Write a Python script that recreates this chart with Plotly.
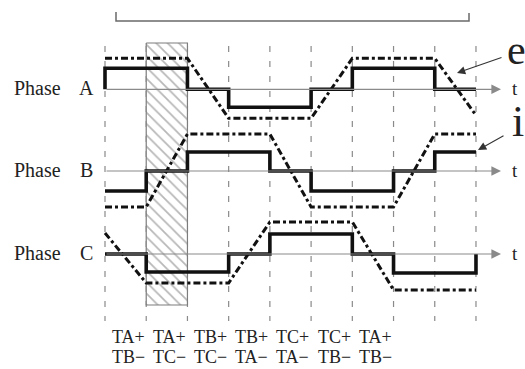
import plotly.graph_objects as go

# ---------------- data ----------------
# commutation instants (dashed lines)
t = [0, 1, 2, 3, 4, 5, 6, 7, 8, 9]

# phase currents, one level per interval (arbitrary units)
cur_a = [21, 21, 0, -18, -18, 0, 21, 21, 0]
cur_b = [-20, 0, 19, 19, 0, -20, -20, 0, 19]
cur_c = [0, -18, -18, 0, 20, 20, 0, -19, -19]

# back-EMF values at each commutation instant (trapezoids)
emf_a = [31, 31, 31, -29, -29, -29, 31, 31, 31, -26]
emf_b = [-36, -36, 37, 37, 37, -36, -36, -36, 37, 37]
emf_c = [21, -29, -29, -29, 32, 32, 32, -36, -36, -36]

# switch pairs conducting in each interval
sw_top = ["TA+", "TA+", "TB+", "TB+", "TC+", "TC+", "TA+"]
sw_bot = ["TB−", "TC−", "TC−", "TA−", "TA−", "TB−", "TB−"]

phase_names = ["A", "B", "C"]
hatched_interval = 1

# ---------------- layout helpers ----------------
W, H = 525, 369
X0_PX, DX_PX = 105.0, 41.22


def px(xp):
    return (xp - X0_PX) / DX_PX


def py(yp):
    return -yp


bases = [py(89.3), py(171), py(254)]
SERIF = "Liberation Serif, Times New Roman, serif"
INK = "#111111"
GRAY = "#8a8a8a"
TXT = "#222222"

fig = go.Figure()

# hatched interval
hx0, hx1 = t[hatched_interval], t[hatched_interval + 1]
fig.add_trace(go.Scatter(
    x=[hx0, hx1, hx1, hx0, hx0],
    y=[py(43), py(43), py(305), py(305), py(43)],
    mode="lines", fill="toself", fillcolor="white",
    fillpattern=dict(shape="\\", fgcolor="#6f6f6f", bgcolor="white",
                     size=8, solidity=0.22),
    line=dict(color="#7c7c7c", width=1.2),
    hoverinfo="skip", showlegend=False))


def step_xy(levels, base, start_zero=False, end_zero=False):
    xs = list(t[:len(levels) + 1])
    ys = [base + v for v in levels] + [base + levels[-1]]
    if start_zero:
        xs = [t[0]] + xs
        ys = [base] + ys
    if end_zero:
        xs = xs + [xs[-1]]
        ys = ys + [base]
    return xs, ys


currents = [cur_a, cur_b, cur_c]
emfs = [emf_a, emf_b, emf_c]
flags = [(True, False), (False, False), (False, True)]

for k in range(3):
    base = bases[k]
    fig.add_trace(go.Scatter(
        x=t, y=[base + v for v in emfs[k]], mode="lines",
        line=dict(color=INK, width=3, dash="7px,3px,3px,3px"),
        hoverinfo="skip", showlegend=False))
    xs, ys = step_xy(currents[k], base, *flags[k])
    fig.add_trace(go.Scatter(
        x=xs, y=ys, mode="lines", line_shape="hv",
        line=dict(color=INK, width=3.6),
        hoverinfo="skip", showlegend=False))

shapes = []
# dashed commutation lines
for xv in t:
    shapes.append(dict(type="line", xref="x", yref="y", x0=xv, x1=xv,
                       y0=py(46), y1=py(321), layer="below",
                       line=dict(color=GRAY, width=1.2, dash="6px,9px")))
# top bracket
shapes.append(dict(
    type="path", xref="x", yref="y",
    path=f"M {px(116)},{py(12)} L {px(116)},{py(21)} L {px(469)},{py(21)} L {px(469)},{py(13)}",
    line=dict(color="#6a6a6a", width=1.5)))

annotations = []
for k in range(3):
    base = bases[k]
    # time axis with arrow
    annotations.append(dict(
        x=px(501), y=base, ax=t[0], ay=base, xref="x", yref="y",
        axref="x", ayref="y", showarrow=True, arrowhead=2, arrowsize=1.6,
        arrowwidth=1.2, arrowcolor=GRAY, text=""))
    annotations.append(dict(
        x=px(515), y=base + 1, xref="x", yref="y", text="t", showarrow=False,
        font=dict(family=SERIF, size=19, color=TXT), xanchor="center", yanchor="middle"))
    annotations.append(dict(
        x=px(12), y=base + 1, xref="x", yref="y", text="Phase", showarrow=False,
        font=dict(family=SERIF, size=20, color=TXT), xanchor="left", yanchor="middle"))
    annotations.append(dict(
        x=px(86.5), y=base + 1, xref="x", yref="y", text=phase_names[k], showarrow=False,
        font=dict(family=SERIF, size=20, color=TXT), xanchor="center", yanchor="middle"))

# switch labels
for i, (a, b) in enumerate(zip(sw_top, sw_bot)):
    annotations.append(dict(
        x=t[i] + 0.56, y=py(337), xref="x", yref="y", text=a, showarrow=False,
        font=dict(family=SERIF, size=18, color=TXT), xanchor="center", yanchor="middle"))
    annotations.append(dict(
        x=t[i] + 0.56, y=py(357), xref="x", yref="y", text=b, showarrow=False,
        font=dict(family=SERIF, size=18, color=TXT), xanchor="center", yanchor="middle"))

# e / i callouts
annotations.append(dict(
    x=px(457), y=py(73), ax=px(503), ay=py(57), xref="x", yref="y",
    axref="x", ayref="y", showarrow=True, arrowhead=2, arrowsize=1.5,
    arrowwidth=1.1, arrowcolor="#333", text=""))
annotations.append(dict(
    x=px(478), y=py(150), ax=px(505), ay=py(135), xref="x", yref="y",
    axref="x", ayref="y", showarrow=True, arrowhead=2, arrowsize=1.5,
    arrowwidth=1.1, arrowcolor="#333", text=""))
annotations.append(dict(
    x=px(505), y=py(50), xref="x", yref="y", text="e", showarrow=False,
    font=dict(family=SERIF, size=42, color=TXT), xanchor="left", yanchor="middle"))
annotations.append(dict(
    x=px(510), y=py(121), xref="x", yref="y", text="i", showarrow=False,
    font=dict(family=SERIF, size=44, color=TXT), xanchor="left", yanchor="middle"))

fig.update_layout(
    width=W, height=H, margin=dict(l=0, r=0, t=0, b=0),
    paper_bgcolor="white", plot_bgcolor="white",
    xaxis=dict(range=[px(0), px(W)], visible=False, fixedrange=True),
    yaxis=dict(range=[py(H), py(0)], visible=False, fixedrange=True),
    shapes=shapes, annotations=annotations, showlegend=False)

fig.write_html("out.html", config={"displayModeBar": False},
               post_script="document.body.style.margin='0';document.body.style.overflow='hidden';")
